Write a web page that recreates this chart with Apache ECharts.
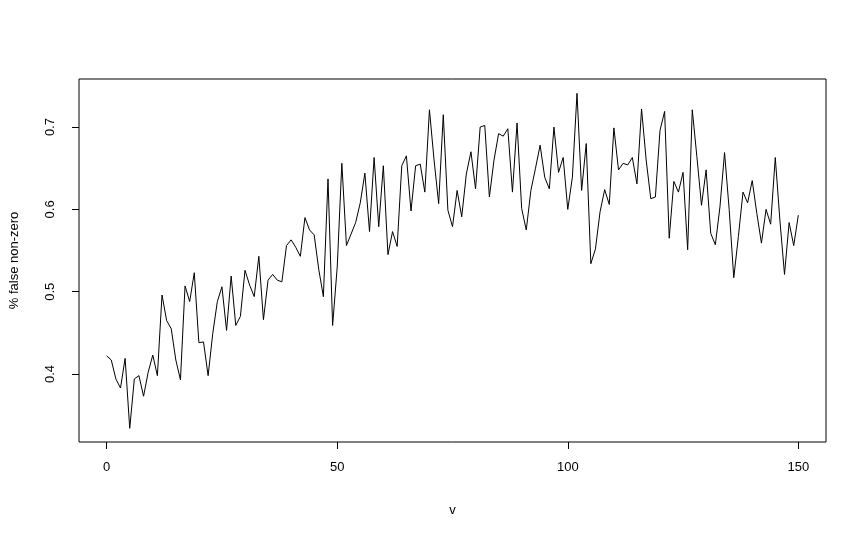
<!DOCTYPE html>
<html>
<head>
<meta charset="utf-8">
<script src="https://cdn.jsdelivr.net/npm/echarts@6/dist/echarts.min.js"></script>
<style>
  html, body { margin: 0; padding: 0; background: #fff; }
  #main { width: 866px; height: 540px; }
</style>
</head>
<body>
<div id="main"></div>
<script>
// % false non-zero for v = 0 .. 150
var falseNonZero = [
    0.422, 0.417, 0.394, 0.383, 0.419, 0.334, 0.394, 0.398, 0.373, 0.402,
    0.423, 0.398, 0.496, 0.465, 0.455, 0.417, 0.393, 0.507, 0.488, 0.523,
    0.438, 0.439, 0.398, 0.449, 0.488, 0.506, 0.453, 0.519, 0.459, 0.470,
    0.526, 0.508, 0.494, 0.543, 0.466, 0.514, 0.521, 0.514, 0.512, 0.556,
    0.563, 0.554, 0.543, 0.590, 0.575, 0.569, 0.527, 0.494, 0.637, 0.459,
    0.530, 0.656, 0.556, 0.570, 0.584, 0.608, 0.644, 0.573, 0.663, 0.579,
    0.653, 0.545, 0.573, 0.555, 0.653, 0.665, 0.598, 0.653, 0.655, 0.621,
    0.721, 0.660, 0.607, 0.715, 0.599, 0.579, 0.623, 0.591, 0.643, 0.670,
    0.625, 0.700, 0.702, 0.615, 0.660, 0.692, 0.689, 0.698, 0.621, 0.705,
    0.601, 0.575, 0.623, 0.650, 0.678, 0.639, 0.625, 0.700, 0.645, 0.663,
    0.600, 0.639, 0.741, 0.623, 0.680, 0.534, 0.552, 0.597, 0.624, 0.606,
    0.699, 0.648, 0.656, 0.654, 0.663, 0.631, 0.722, 0.660, 0.613, 0.615,
    0.696, 0.719, 0.565, 0.634, 0.621, 0.645, 0.551, 0.721, 0.664, 0.605,
    0.648, 0.571, 0.557, 0.603, 0.669, 0.600, 0.517, 0.567, 0.621, 0.608,
    0.635, 0.595, 0.559, 0.600, 0.582, 0.663, 0.587, 0.521, 0.584, 0.556,
    0.593
];
var xTicks = [0, 50, 100, 150];
var yTicks = [0.4, 0.5, 0.6, 0.7];

var points = [];
for (var i = 0; i < falseNonZero.length; i++) {
    points.push([i, falseNonZero[i]]);
}

var font = 'Liberation Sans, Arial, sans-serif';

var option = {
    animation: false,
    backgroundColor: '#fff',
    grid: {
        left: 78,
        right: 40,
        top: 79,
        bottom: 98,
        show: true,
        borderColor: '#000',
        borderWidth: 1,
        backgroundColor: 'transparent'
    },
    xAxis: {
        type: 'value',
        min: -6,
        max: 156,
        name: 'v',
        nameLocation: 'middle',
        nameGap: 62,
        nameTextStyle: {color: '#000', fontSize: 13, fontFamily: font},
        axisLine: {show: false, onZero: false},
        splitLine: {show: false},
        axisTick: {
            show: true,
            customValues: xTicks,
            length: 7,
            lineStyle: {color: '#000', width: 1}
        },
        axisLabel: {
            customValues: xTicks,
            margin: 19,
            color: '#000',
            fontSize: 13,
            fontFamily: font
        }
    },
    yAxis: {
        type: 'value',
        min: 0.3174,
        max: 0.7584,
        name: '% false non-zero',
        nameLocation: 'middle',
        nameGap: 58,
        nameTextStyle: {color: '#000', fontSize: 13, fontFamily: font},
        axisLine: {show: false, onZero: false},
        splitLine: {show: false},
        axisTick: {
            show: true,
            customValues: yTicks,
            length: 7,
            lineStyle: {color: '#000', width: 1}
        },
        axisLabel: {
            customValues: yTicks,
            rotate: 90,
            margin: 22,
            color: '#000',
            fontSize: 13,
            fontFamily: font,
            formatter: function (v) { return v.toFixed(1); }
        }
    },
    series: [
        {
            name: '% false non-zero',
            type: 'line',
            data: points,
            showSymbol: false,
            symbol: 'none',
            lineStyle: {color: '#000', width: 1},
            silent: true
        }
    ]
};

var myChart = echarts.init(document.getElementById('main'));
myChart.setOption(option);
</script>
</body>
</html>
